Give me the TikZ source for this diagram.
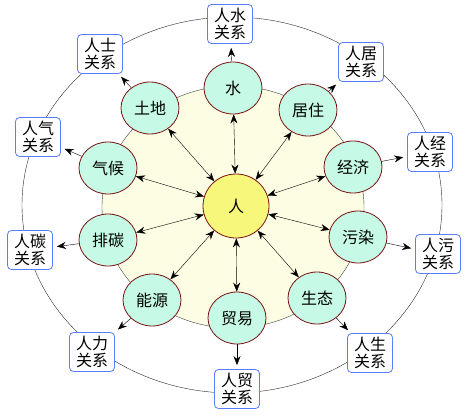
\documentclass[tikz,border=0pt]{standalone}
\usepackage{fontspec}
\newfontfamily\cjk{Noto Sans CJK SC}
\usepackage{xcolor}
\usepackage{tikz}
\usetikzlibrary{shapes.geometric, arrows.meta}

\definecolor{factorfill}{HTML}{C6F9E6}
\definecolor{rimred}{HTML}{7A1010}
\definecolor{renfill}{HTML}{F7F77C}
\definecolor{innerfill}{HTML}{FDFDE4}
\definecolor{relblue}{HTML}{5A7CFF}

\begin{document}
\begin{tikzpicture}[x=1pt, y=-1pt, >={Stealth[length=9pt,width=7pt]},
        factor/.style={ellipse, draw=rimred, thick, fill=factorfill, minimum width=58pt, minimum height=52pt, inner sep=0pt},
        person/.style={ellipse, draw=rimred, thick, fill=renfill, minimum width=66pt, minimum height=64pt, inner sep=0pt},
        rel/.style={draw=relblue, thick, fill=white, rounded corners=4pt, align=center, minimum width=45pt, minimum height=39pt, inner sep=1pt, font=\cjk\fontsize{16}{17}\selectfont},
        font=\cjk\fontsize{16}{19}\selectfont]
        \useasboundingbox (0,0) rectangle (470,417);

        \draw[black!85] (232,205) ellipse (210pt and 188pt);
        \draw[black!75, fill=innerfill] (233,207) ellipse (131pt and 121pt);

        \node[person] (ren) at (236,206) {人};

        \node[factor] (shui)     at (233,88)  {水};
        \node[factor] (juzhu)    at (308,110) {居住};
        \node[factor] (jingji)   at (353,167) {经济};
        \node[factor] (wuran)    at (358,237) {污染};
        \node[factor] (shengtai) at (317,298) {生态};
        \node[factor] (maoyi)    at (237,318) {贸易};
        \node[factor] (nengyuan) at (152,300) {能源};
        \node[factor] (paitan)   at (108,240) {排碳};
        \node[factor] (qihou)    at (108,168) {气候};
        \node[factor] (tudi)     at (150,108) {土地};

        \node[rel] (rshui)     at (230,24)  {人水\\关系};
        \node[rel] (rjuzhu)    at (361,62)  {人居\\关系};
        \node[rel] (rjingji)   at (430,152) {人经\\关系};
        \node[rel] (rwuran)    at (438,254) {人污\\关系};
        \node[rel] (rshengtai) at (370,353) {人生\\关系};
        \node[rel] (rmaoyi)    at (237,389) {人贸\\关系};
        \node[rel] (rnengyuan) at (92,352)  {人力\\关系};
        \node[rel] (rpaitan)   at (30,250)  {人碳\\关系};
        \node[rel] (rqihou)    at (38,137)  {人气\\关系};
        \node[rel] (rtudi)     at (100,54)  {人士\\关系};

        \path[<->]
        (ren) edge (shui)
        (ren) edge (juzhu)
        (ren) edge (jingji)
        (ren) edge (wuran)
        (ren) edge (shengtai)
        (ren) edge (maoyi)
        (ren) edge (nengyuan)
        (ren) edge (paitan)
        (ren) edge (qihou)
        (ren) edge (tudi);

        \path[->, shorten >=4pt]
        (shui) edge (rshui)
        (juzhu) edge (rjuzhu)
        (jingji) edge (rjingji)
        (wuran) edge (rwuran)
        (shengtai) edge (rshengtai)
        (maoyi) edge (rmaoyi)
        (nengyuan) edge (rnengyuan)
        (paitan) edge (rpaitan)
        (qihou) edge (rqihou)
        (tudi) edge (rtudi);

    \end{tikzpicture}
\end{document}
